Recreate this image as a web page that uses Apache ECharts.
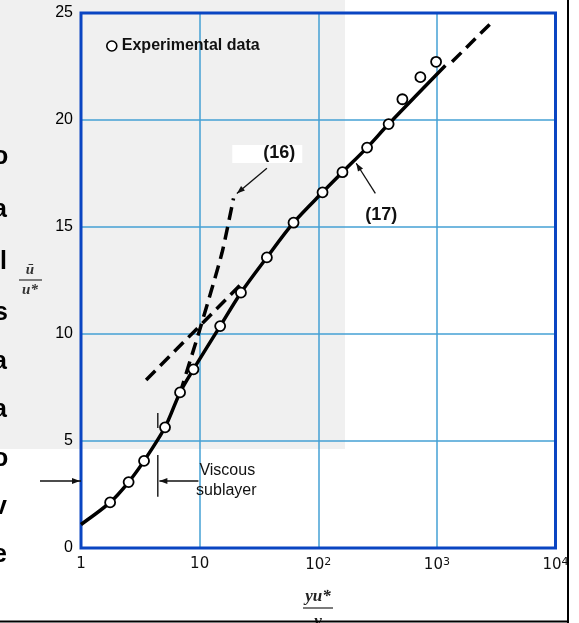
<!DOCTYPE html>
<html>
<head>
<meta charset="utf-8">
<script src="https://cdn.jsdelivr.net/npm/echarts@6/dist/echarts.min.js"></script>
<style>
html, body { margin: 0; padding: 0; background: #fff; }
#chart { width: 579px; height: 623px; }
</style>
</head>
<body>
<div id="chart"></div>
<script>
// experimental points: y u*/nu  ->  u/u*
var dataX = [1.76, 2.52, 3.40, 5.11, 6.84, 8.87, 14.9, 22.3, 36.9, 61.9, 108.7, 160, 258, 392, 512, 726, 985];
var dataY = [2.13, 3.08, 4.07, 5.64, 7.27, 8.35, 10.37, 11.93, 13.58, 15.2, 16.62, 17.56, 18.71, 19.81, 20.97, 22.0, 22.72];

// solid velocity profile
var curveX = [1, 1.76, 2.52, 3.40, 5.11, 6.84, 8.87, 14.9, 22.3, 36.9, 61.9, 108.7, 160, 258, 392, 1180];
var curveY = [1.1, 2.13, 3.08, 4.07, 5.64, 7.27, 8.35, 10.37, 11.93, 13.58, 15.2, 16.62, 17.56, 18.71, 19.81, 22.55];

// eq (16), dashed
var eq16X = [6.84, 10.2, 15.4, 19.3];
var eq16Y = [7.24, 10.34, 13.77, 16.34];

// log law (17) dashed extensions
var lawLowX = [3.54, 22];
var lawLowY = [7.85, 12.29];
var lawHighX = [1343, 2884];
var lawHighY = [22.72, 24.55];

var xTickLabels = ['1', '10', '10{s|2}', '10{s|3}', '10{s|4}'];
var yTicks = [0, 5, 10, 15, 20, 25];

function pairs(xs, ys) {
  var out = [];
  for (var i = 0; i < xs.length; i++) out.push([xs[i], ys[i]]);
  return out;
}

var blue = '#0a45c2';
var gridBlue = '#45a0d4';

var chart = echarts.init(document.getElementById('chart'));

var option = {
  animation: false,
  grid: {
    left: 81, right: 23.5, top: 13, bottom: 75,
    show: false,
    outerBoundsMode: 'none'
  },
  legend: {
    data: ['Experimental data'],
    left: 106, top: 38, padding: 0,
    icon: 'circle', itemWidth: 10, itemHeight: 10, itemGap: 4,
    itemStyle: { color: '#fff', borderColor: '#000', borderWidth: 1.6 },
    textStyle: { fontFamily: 'Liberation Sans', fontSize: 16, fontWeight: 'bold', color: '#111' }
  },
  xAxis: {
    type: 'log', logBase: 10, min: 1, max: 10000,
    axisLine: { show: false },
    axisTick: { show: false },
    splitLine: { show: true, lineStyle: { color: gridBlue, width: 1.5 } },
    axisLabel: {
      margin: 9,
      fontFamily: 'DejaVu Sans', fontSize: 15, color: '#111',
      formatter: function (v) { return xTickLabels[Math.round(Math.log10(v))]; },
      rich: {
        s: { fontFamily: 'DejaVu Sans', fontSize: 11, color: '#111', verticalAlign: 'top', padding: [0, 0, 6, 0] }
      }
    }
  },
  yAxis: {
    type: 'value', min: yTicks[0], max: yTicks[yTicks.length - 1], interval: 5,
    axisLine: { show: false },
    axisTick: { show: false },
    splitLine: { show: true, lineStyle: { color: gridBlue, width: 1.5 } },
    axisLabel: { margin: 8, fontFamily: 'Liberation Sans', fontSize: 16, color: '#000' }
  },
  series: [
    {
      name: 'profile', type: 'line', data: pairs(curveX, curveY),
      smooth: 0.3, showSymbol: false, z: 3,
      lineStyle: { color: '#000', width: 3.5 }
    },
    {
      name: 'eq16', type: 'line', data: pairs(eq16X, eq16Y),
      smooth: 0.2, showSymbol: false, z: 3,
      lineStyle: { color: '#000', width: 3.5, type: [13, 7] }
    },
    {
      name: 'lawLow', type: 'line', data: pairs(lawLowX, lawLowY),
      showSymbol: false, z: 3,
      lineStyle: { color: '#000', width: 3.5, type: [13, 7] }
    },
    {
      name: 'lawHigh', type: 'line', data: pairs(lawHighX, lawHighY),
      showSymbol: false, z: 3,
      lineStyle: { color: '#000', width: 3.5, type: [13, 7] }
    },
    {
      name: 'Experimental data', type: 'scatter', data: pairs(dataX, dataY),
      symbol: 'circle', symbolSize: 10, z: 5,
      itemStyle: { color: '#fff', borderColor: '#000', borderWidth: 1.8, opacity: 1 }
    }
  ]
};
chart.setOption(option);

// annotations, given in data coordinates
var arrows = [
  { from: [36.9, 17.74], to: [20.6, 16.57] },
  { from: [303, 16.57], to: [209, 17.98] },
  { from: [9.77, 3.13], to: [4.58, 3.13] }
];
var bars = [
  { from: [4.44, 4.35], to: [4.44, 2.40] },
  { from: [4.44, 6.31], to: [4.44, 5.61] }
];
var notes = [
  { at: [34.4, 18.46], text: '(16)', bold: true, size: 18, align: 'left' },
  { at: [340, 15.56], text: '(17)', bold: true, size: 18, align: 'center' },
  { at: [9.96, 3.61], text: 'Viscous', bold: false, size: 16, align: 'left' },
  { at: [9.34, 2.68], text: 'sublayer', bold: false, size: 16, align: 'left' }
];
var edgeChars = ['o', 'a', 'l', 's', 'a', 'a', 'o', 'v', 'e'];
var edgeY = [157, 210, 262, 313, 362, 410, 459, 507, 555];
var edgeX = [-7, -7, 0, -6, -7, -7, -7, -7, -7];

function px(p) { return chart.convertToPixel({ gridIndex: 0 }, p); }

function arrowHead(tip, tail) {
  var dx = tip[0] - tail[0], dy = tip[1] - tail[1];
  var len = Math.sqrt(dx * dx + dy * dy);
  var ux = dx / len, uy = dy / len;
  var L = 8, W = 3;
  var bx = tip[0] - ux * L, by = tip[1] - uy * L;
  return {
    type: 'polygon', z: 50,
    shape: { points: [tip, [bx - uy * W, by + ux * W], [bx + uy * W, by - ux * W]] },
    style: { fill: '#111' }
  };
}

var g = [];
var lo = px([1, 0]);
var hi = px([10000, 25]);

// faded picture behind the left part
g.push({
  type: 'rect', z: -10, silent: true,
  shape: { x: 0, y: 0, width: 345, height: 449 },
  style: { fill: '#f0f0f0' }
});
// white patch behind (16)
var p16 = px(notes[0].at);
g.push({
  type: 'rect', z: -5,
  shape: { x: p16[0] - 31, y: p16[1] - 8, width: 70, height: 18 },
  style: { fill: '#fff' }
});

// plot frame in dark blue above the grid lines
g.push({
  type: 'rect', z: 1,
  shape: { x: lo[0], y: hi[1], width: hi[0] - lo[0], height: lo[1] - hi[1] },
  style: { fill: null, stroke: blue, lineWidth: 3 }
});

arrows.forEach(function (a) {
  var f = px(a.from), t = px(a.to);
  g.push({ type: 'line', z: 50, shape: { x1: f[0], y1: f[1], x2: t[0], y2: t[1] }, style: { stroke: '#111', lineWidth: 1.3 } });
  g.push(arrowHead(t, f));
});
// arrow from outside the plot to the axis at the sublayer edge
var yEdge = px([1, 3.13])[1];
g.push({ type: 'line', z: 50, shape: { x1: 40, y1: yEdge, x2: lo[0], y2: yEdge }, style: { stroke: '#111', lineWidth: 1.3 } });
g.push(arrowHead([lo[0] - 1, yEdge], [40, yEdge]));

bars.forEach(function (b) {
  var f = px(b.from), t = px(b.to);
  g.push({ type: 'line', z: 50, shape: { x1: f[0], y1: f[1], x2: t[0], y2: t[1] }, style: { stroke: '#222', lineWidth: 1.5 } });
});

notes.forEach(function (n) {
  var p = px(n.at);
  g.push({
    type: 'text', z: 60, x: p[0], y: p[1],
    style: {
      text: n.text, fill: '#111', align: n.align, verticalAlign: 'middle',
      font: (n.bold ? 'bold ' : '') + n.size + 'px "Liberation Sans"'
    }
  });
});

// axis titles as fractions
g.push({ type: 'text', z: 60, x: 30, y: 270, style: { text: 'ū', fill: '#333', align: 'center', verticalAlign: 'middle', font: 'italic bold 15px "Liberation Serif"' } });
g.push({ type: 'line', z: 60, shape: { x1: 19, y1: 280, x2: 42, y2: 280 }, style: { stroke: '#333', lineWidth: 1.2 } });
g.push({ type: 'text', z: 60, x: 30, y: 290, style: { text: 'u*', fill: '#333', align: 'center', verticalAlign: 'middle', font: 'italic bold 15px "Liberation Serif"' } });

g.push({ type: 'text', z: 60, x: 318, y: 597, style: { text: 'yu*', fill: '#222', align: 'center', verticalAlign: 'middle', font: 'italic bold 17px "Liberation Serif"' } });
g.push({ type: 'line', z: 60, shape: { x1: 303, y1: 608, x2: 333, y2: 608 }, style: { stroke: '#222', lineWidth: 1.2 } });
g.push({ type: 'text', z: 60, x: 318, y: 622, style: { text: 'ν', fill: '#222', align: 'center', verticalAlign: 'middle', font: 'italic bold 17px "Liberation Serif"' } });

// cut-off letters from the neighbouring page
edgeChars.forEach(function (c, i) {
  g.push({ type: 'text', z: 60, x: edgeX[i], y: edgeY[i], style: { text: c, fill: '#000', verticalAlign: 'middle', font: 'bold 25px "Liberation Sans"' } });
});

// page frame on the right and bottom
g.push({ type: 'rect', z: 90, shape: { x: 569, y: 0, width: 10, height: 623 }, style: { fill: '#fff' } });
g.push({ type: 'line', z: 95, shape: { x1: 568, y1: 0, x2: 568, y2: 623 }, style: { stroke: '#000', lineWidth: 2 } });
g.push({ type: 'rect', z: 90, shape: { x: 0, y: 623, width: 579, height: 2 }, style: { fill: '#fff' } });
g.push({ type: 'line', z: 95, shape: { x1: 0, y1: 621.5, x2: 568, y2: 621.5 }, style: { stroke: '#000', lineWidth: 2 } });

chart.setOption({ graphic: g });
</script>
</body>
</html>
